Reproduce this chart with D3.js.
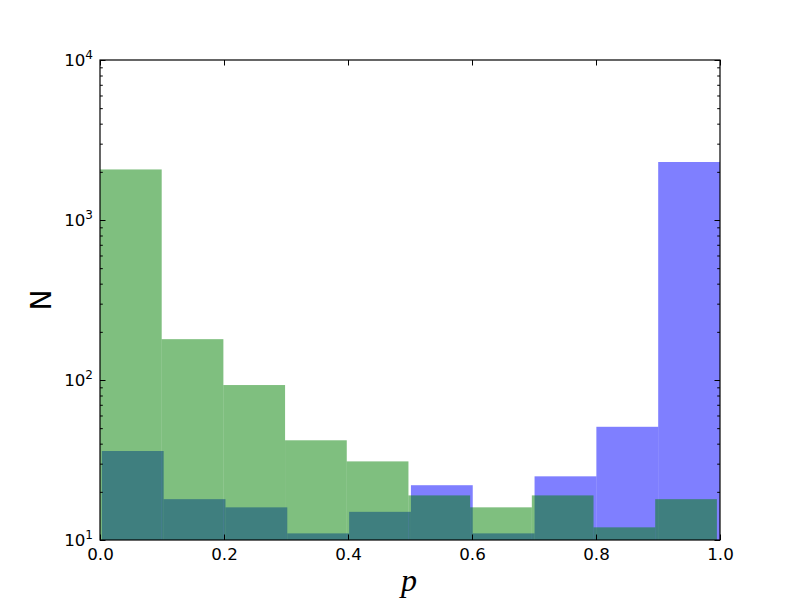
<!DOCTYPE html>
<html>
<head>
<meta charset="utf-8">
<script src="https://cdn.jsdelivr.net/npm/d3@7"></script>
<style>
	body { margin: 0; background: #fff; }
</style>
</head>
<body>
<svg id="chart" width="800" height="600"></svg>
<script>
// histogram counts per bin (10 bins each)
var blueCounts = [36, 18, 16, 11, 15, 22, 11, 25, 51, 2304];
var greenCounts = [2070, 180, 93, 42, 31, 19, 16, 19, 12, 18];
// range of p covered by each histogram
var blueRange = [0.003, 1.0];
var greenRange = [0.0, 0.995];
var xTicks = [0, 0.2, 0.4, 0.6, 0.8, 1.0];
var yTicks = [10, 100, 1000, 10000];
var yExp = ["1", "2", "3", "4"];

buildChart();

function buildChart() {
	var svg = d3.select("#chart");
	var margin = {top: 60, right: 80, bottom: 60, left: 100},
		width = 800 - margin.left - margin.right,
		height = 600 - margin.top - margin.bottom;

	var x = d3.scaleLinear().domain([0, 1]).range([0, width]);
	var y = d3.scaleLog().domain([10, 10000]).range([height, 0]);

	var g = svg.append("g")
		.attr("transform", "translate(" + margin.left + "," + margin.top + ")");

	drawHist(g, blueCounts, blueRange, "#0000ff", x, y, height);
	drawHist(g, greenCounts, greenRange, "#008000", x, y, height);

	// minor log ticks
	var minor = [];
	for (var k = 10; k < 10000; k *= 10) {
		for (var m = 2; m <= 9; m++) minor.push(k * m);
	}

	var fmt = function() { return ""; };

	g.append("g").attr("class", "axis")
		.attr("transform", "translate(0," + height + ")")
		.call(d3.axisBottom(x).tickValues(xTicks).tickSize(-5.5).tickPadding(8)
			.tickFormat(d3.format(".1f")));
	g.append("g").attr("class", "axis")
		.call(d3.axisTop(x).tickValues(xTicks).tickSize(-5.5).tickFormat(fmt));

	var yl = g.append("g").attr("class", "axis")
		.call(d3.axisLeft(y).tickValues(yTicks).tickSize(-5.5).tickPadding(7).tickFormat(fmt));
	g.append("g").attr("class", "axis")
		.call(d3.axisLeft(y).tickValues(minor).tickSize(-2.8).tickFormat(fmt));
	g.append("g").attr("class", "axis")
		.attr("transform", "translate(" + width + ",0)")
		.call(d3.axisRight(y).tickValues(yTicks).tickSize(-5.5).tickFormat(fmt));
	g.append("g").attr("class", "axis")
		.attr("transform", "translate(" + width + ",0)")
		.call(d3.axisRight(y).tickValues(minor).tickSize(-2.8).tickFormat(fmt));

	yl.selectAll(".tick text").each(function(d, i) {
		var t = d3.select(this);
		t.text("10");
		t.append("tspan")
			.attr("dy", "-0.55em")
			.style("font-size", "12px")
			.text(yExp[i]);
	});

	g.selectAll(".axis .domain").remove();
	g.selectAll(".axis .tick line").attr("stroke", "#000").attr("stroke-width", 1);
	g.selectAll(".axis > .tick > text")
		.style("font-size", "16.7px")
		.style("font-family", "'DejaVu Sans', sans-serif")
		.attr("fill", "#000");

	// frame
	g.append("rect")
		.attr("width", width)
		.attr("height", height)
		.attr("fill", "none")
		.attr("stroke", "#000")
		.attr("stroke-width", 1.2);

	svg.append("text")
		.attr("x", 409)
		.attr("y", 591)
		.attr("text-anchor", "middle")
		.style("font-family", "'Liberation Serif', 'DejaVu Serif', serif")
		.style("font-style", "italic")
		.style("font-size", "32px")
		.text("p");

	svg.append("text")
		.attr("transform", "translate(51,300) rotate(-90)")
		.attr("text-anchor", "middle")
		.style("font-family", "'DejaVu Sans', sans-serif")
		.style("font-size", "28px")
		.text("N");
}

function drawHist(g, counts, range, color, x, y, height) {
	var n = counts.length;
	var step = (range[1] - range[0]) / n;
	g.append("g").selectAll("rect")
		.data(counts)
		.enter().append("rect")
			.attr("x", function(d, i) { return x(range[0] + i * step); })
			.attr("width", function(d, i) { return x(range[0] + (i + 1) * step) - x(range[0] + i * step); })
			.attr("y", function(d) { return y(d); })
			.attr("height", function(d) { return height - y(d); })
			.attr("fill", color)
			.attr("fill-opacity", 0.5);
}
</script>
</body>
</html>
